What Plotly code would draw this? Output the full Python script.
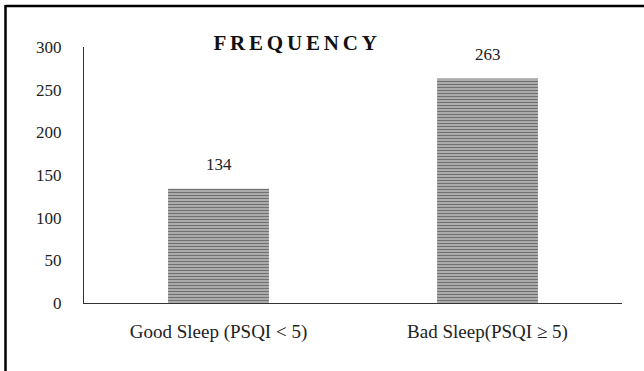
import plotly.graph_objects as go

categories = ["Good Sleep (PSQI < 5)", "Bad Sleep(PSQI ≥ 5)"]
frequency = [134, 263]
y_ticks = [0, 50, 100, 150, 200, 250, 300]
title_text = "FREQUENCY"

W, H = 644, 371
L, R, T, B = 84, 22, 47, 68
pw, ph = W - L - R, H - T - B

SERIF = "Liberation Serif"

fig = go.Figure()
fig.add_trace(go.Bar(
    x=categories, y=frequency,
    marker=dict(color="#9a9a9a",
                line=dict(width=0),
                pattern=dict(shape="-", fgcolor="#707070", bgcolor="#b8b8b8",
                             size=3, solidity=0.45, fillmode="replace")),
))

for c, v in zip(categories, frequency):
    fig.add_annotation(x=c, y=v, text=str(v), showarrow=False,
                       yanchor="bottom", yshift=13,
                       font=dict(family=SERIF, size=17, color="#222"))

font = dict(family=SERIF, size=17, color="#222")
xfont = dict(family=SERIF, size=19, color="#222")
fig.update_layout(
    width=W, height=H,
    margin=dict(l=L, r=R, t=T, b=B, pad=0),
    paper_bgcolor="white", plot_bgcolor="white",
    bargap=0.625,
    showlegend=False,
    font=font,
    title=dict(text="<b>" + title_text + "</b>", x=297 / W, xanchor="center",
               y=1 - 43 / H, yanchor="middle",
               font=dict(family=SERIF, size=21, color="#111")),
    xaxis=dict(showline=True, linecolor="#333", linewidth=1, ticks="",
               tickfont=xfont, showgrid=False, zeroline=False,
               ticklabelstandoff=11),
    yaxis=dict(range=[0, 300], tickvals=y_ticks, showline=True, linecolor="#333",
               linewidth=1, ticks="", showgrid=False, zeroline=False,
               tickfont=font, ticklabelstandoff=18),
)

def px_x(px):
    return (px - L) / pw

def px_y(py):
    return (H - B - py) / ph

fig.add_shape(type="line", xref="paper", yref="paper",
              x0=px_x(5.5), x1=px_x(650), y0=px_y(6), y1=px_y(6),
              line=dict(color="black", width=2.5))
fig.add_shape(type="line", xref="paper", yref="paper",
              x0=px_x(5.5), x1=px_x(5.5), y0=px_y(5), y1=px_y(380),
              line=dict(color="black", width=2.5))

post = """
document.body.style.margin='0px';
var t=document.querySelector('.gtitle'); if(t){t.style.letterSpacing='3.8px';}
"""
fig.write_html("out.html", post_script=post, config={"displayModeBar": False})
